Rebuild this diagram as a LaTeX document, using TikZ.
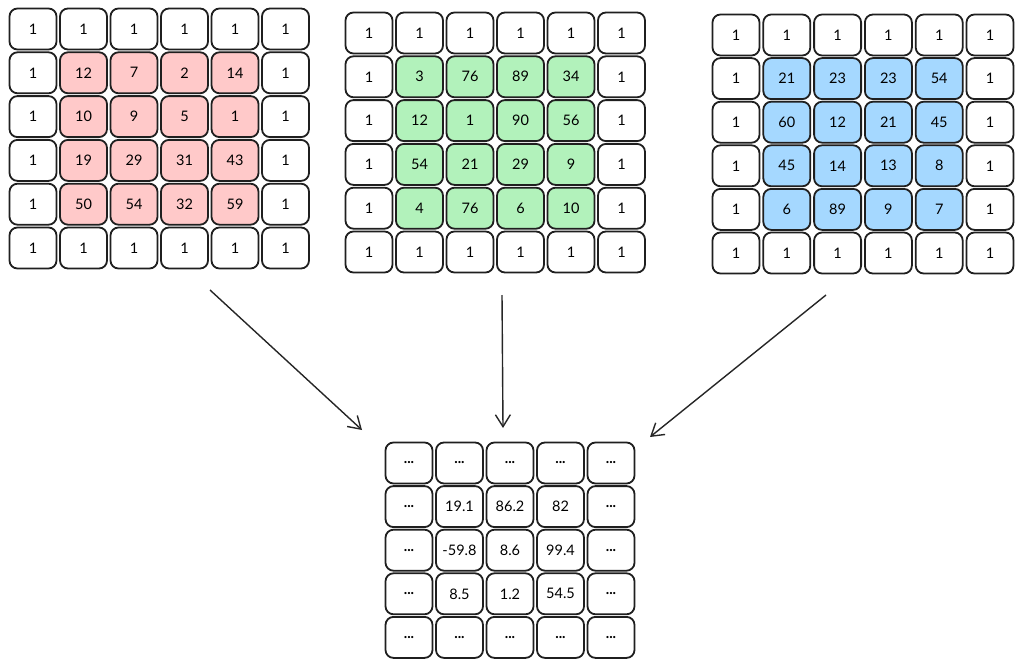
\documentclass[tikz,border=0pt]{standalone}
\usepackage{fontspec}
\setmainfont{Lato}
\usepackage{tikz}
\usetikzlibrary{arrows.meta}
\usepackage{xcolor}

\definecolor{cellred}{HTML}{FFC9C9}
\definecolor{cellgreen}{HTML}{B2F2BB}
\definecolor{cellblue}{HTML}{A5D8FF}
\newcommand\ellip{\textbf{...}}

\tikzset{
  cell/.style={draw=black!88,line width=1.8pt,rounded corners=8pt,fill=white,
    minimum width=47pt,minimum height=41pt,inner sep=0pt,
    font=\fontsize{14.5}{16}\selectfont},
  flow/.style={draw=black!85,line width=1.4pt,-{Straight Barb[length=12pt,width=15pt,line width=1.4pt]}}
}

\begin{document}
\begin{tikzpicture}[x=1pt,y=-1pt]
    \useasboundingbox (0,0) rectangle (1024,669);
    % left input, red
    \begin{scope}[shift={(33,29)}]
      \foreach \row [count=\j from 0] in {{1,1,1,1,1,1},{1,12,7,2,14,1},{1,10,9,5,1,1},
                                          {1,19,29,31,43,1},{1,50,54,32,59,1},{1,1,1,1,1,1}}
        \foreach \val [count=\i from 0] in \row {
          \pgfmathtruncatemacro\inner{and(and(\i>0,\i<5),and(\j>0,\j<5))}
          \ifnum\inner=1 \def\cellfill{cellred}\else\def\cellfill{white}\fi
          \node[cell,fill=\cellfill] (r\j\i) at (50.5*\i,43.8*\j) {\val};
        }
    \end{scope}
    % middle input, green
    \begin{scope}[shift={(369,33)}]
      \foreach \row [count=\j from 0] in {{1,1,1,1,1,1},{1,3,76,89,34,1},{1,12,1,90,56,1},
                                          {1,54,21,29,9,1},{1,4,76,6,10,1},{1,1,1,1,1,1}}
        \foreach \val [count=\i from 0] in \row {
          \pgfmathtruncatemacro\inner{and(and(\i>0,\i<5),and(\j>0,\j<5))}
          \ifnum\inner=1 \def\cellfill{cellgreen}\else\def\cellfill{white}\fi
          \node[cell,fill=\cellfill] (g\j\i) at (50.5*\i,43.8*\j) {\val};
        }
    \end{scope}
    % right input, blue
    \begin{scope}[shift={(736,35)}]
      \foreach \row [count=\j from 0] in {{1,1,1,1,1,1},{1,21,23,23,54,1},{1,60,12,21,45,1},
                                          {1,45,14,13,8,1},{1,6,89,9,7,1},{1,1,1,1,1,1}}
        \foreach \val [count=\i from 0] in \row {
          \pgfmathtruncatemacro\inner{and(and(\i>0,\i<5),and(\j>0,\j<5))}
          \ifnum\inner=1 \def\cellfill{cellblue}\else\def\cellfill{white}\fi
          \node[cell,fill=\cellfill] (b\j\i) at (50.8*\i,43.6*\j) {\val};
        }
    \end{scope}
    % output
    \begin{scope}[shift={(409,463)}]
      \foreach \row [count=\j from 0] in {{\ellip,\ellip,\ellip,\ellip,\ellip},
                                          {\ellip,19.1,86.2,82,\ellip},
                                          {\ellip,-59.8,8.6,99.4,\ellip},
                                          {\ellip,8.5,1.2,54.5,\ellip},
                                          {\ellip,\ellip,\ellip,\ellip,\ellip}}
        \foreach \val [count=\i from 0] in \row
          \node[cell] (s\j\i) at (50.5*\i,43.6*\j) {\val};
    \end{scope}
    \coordinate (rout) at (210,290); \coordinate (rin) at (362,430);
    \coordinate (gout) at (502,295); \coordinate (gin) at (503,428);
    \coordinate (bout) at (826,295); \coordinate (bin) at (650,437);
    \draw[flow] (rout) -- (rin);
    \draw[flow] (gout) -- (gin);
    \draw[flow] (bout) -- (bin);
  \end{tikzpicture}
\end{document}
